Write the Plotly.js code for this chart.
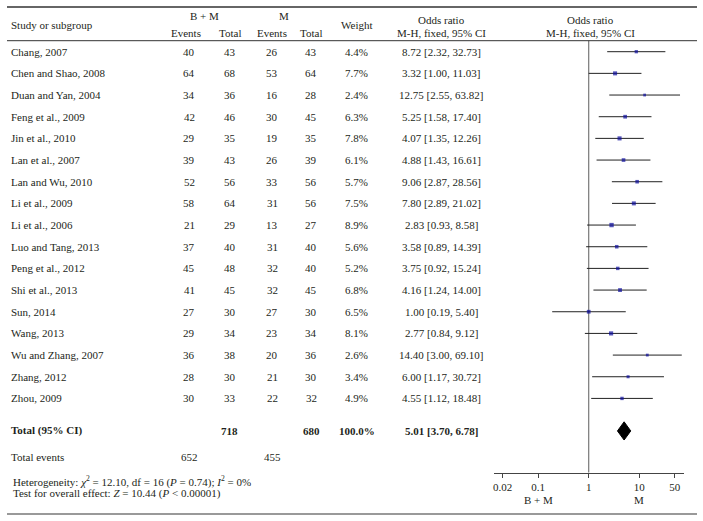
<!DOCTYPE html>
<html>
<head>
<meta charset="utf-8">
<script src="https://cdn.plot.ly/plotly-3.0.1.min.js"></script>
<style>html,body{margin:0;padding:0;background:#fff;}#chart{width:703px;height:521px;}</style>
</head>
<body>
<div id="chart"></div>
<script>
// ---- data ----
const studies = ["Chang, 2007","Chen and Shao, 2008","Duan and Yan, 2004","Feng et al., 2009","Jin et al., 2010","Lan et al., 2007","Lan and Wu, 2010","Li et al., 2009","Li et al., 2006","Luo and Tang, 2013","Peng et al., 2012","Shi et al., 2013","Sun, 2014","Wang, 2013","Wu and Zhang, 2007","Zhang, 2012","Zhou, 2009"];
const bmEvents = [40,64,34,42,29,39,52,58,21,37,45,41,27,29,36,28,30];
const bmTotal  = [43,68,36,46,35,43,56,64,29,40,48,45,30,34,38,30,33];
const mEvents  = [26,53,16,30,19,26,33,31,13,31,32,32,27,23,20,21,22];
const mTotal   = [43,64,28,45,35,39,56,56,27,40,40,45,30,34,36,30,32];
const weights  = [4.4,7.7,2.4,6.3,7.8,6.1,5.7,7.5,8.9,5.6,5.2,6.8,6.5,8.1,2.6,3.4,4.9];
const orVal    = [8.72,3.32,12.75,5.25,4.07,4.88,9.06,7.80,2.83,3.58,3.75,4.16,1.00,2.77,14.40,6.00,4.55];
const ciLow    = [2.32,1.00,2.55,1.58,1.35,1.43,2.87,2.89,0.93,0.89,0.92,1.24,0.19,0.84,3.00,1.17,1.12];
const ciHigh   = [32.73,11.03,63.82,17.40,12.26,16.61,28.56,21.02,8.58,14.39,15.24,14.00,5.40,9.12,69.10,30.72,18.48];
const totalBM = 718, totalM = 680, totalWeight = 100.0;
const totalOR = 5.01, totalLow = 3.70, totalHigh = 6.78;
const totalEventsBM = 652, totalEventsM = 455;
const tickVals = [0.02, 0.1, 1, 10, 50];
const tickText = ["0.02","0.1","1","10","50"];
const favourLabels = ["B + M", "M"];
const favourAt = [0.1, 10];

// ---- layout helpers ----
const W = 703, H = 521;
const px = x => x / W;
const py = y => 1 - y / H;
const FONT = "Liberation Serif, DejaVu Serif, serif";
const TXT = "#231f20";
const rowTop = 51.7, rowStep = 21.67;            // pixel position of row 0 and row spacing
const axTopPx = 40.7, axBotPx = 472.5;
const yRange = [(axBotPx - rowTop) / rowStep, (axTopPx - rowTop) / rowStep];
const totalRow = studies.length + 0.5;
const eventsRow = studies.length + 1.7;
const xLeftPx = 494, xRightPx = 684, oneX = 588.7, decade = 50.6;
const xRange = [(xLeftPx - oneX) / decade, (xRightPx - oneX) / decade];

const col = {name: 9, bmE: 189, bmT: 230, mE: 272, mT: 311, w: 357, or: 441};

const ann = [];
function addText(text, x, y, anchor, yref) {
  ann.push({text: text, x: px(x), xref: "paper", y: y, yref: yref || "y", xanchor: anchor || "center",
            yanchor: "middle", showarrow: false, font: {family: FONT, size: 11, color: TXT}});
}
function fmtOR(o, l, h) { return o.toFixed(2) + " [" + l.toFixed(2) + ", " + h.toFixed(2) + "]"; }

// headers
addText("B + M", 204, py(16), "center", "paper");
addText("M", 284, py(16), "center", "paper");
addText("Study or subgroup", col.name, py(25), "left", "paper");
addText("Events", 186, py(33), "center", "paper");
addText("Total", 230, py(33), "center", "paper");
addText("Events", 272, py(33), "center", "paper");
addText("Total", 311, py(33), "center", "paper");
addText("Weight", col.w, py(25), "center", "paper");
addText("Odds ratio", col.or, py(20), "center", "paper");
addText("M-H, fixed, 95% CI", col.or, py(33), "center", "paper");
addText("Odds ratio", 590, py(20), "center", "paper");
addText("M-H, fixed, 95% CI", 590, py(33), "center", "paper");

// rows
studies.forEach((s, i) => {
  addText(s, col.name, i, "left");
  addText(String(bmEvents[i]), col.bmE, i);
  addText(String(bmTotal[i]), col.bmT, i);
  addText(String(mEvents[i]), col.mE, i);
  addText(String(mTotal[i]), col.mT, i);
  addText(weights[i].toFixed(1) + "%", col.w, i);
  addText(fmtOR(orVal[i], ciLow[i], ciHigh[i]), col.or, i);
});
// totals
addText("<b>Total (95% CI)</b>", col.name, totalRow, "left");
addText("<b>" + totalBM + "</b>", col.bmT, totalRow);
addText("<b>" + totalM + "</b>", col.mT, totalRow);
addText("<b>" + totalWeight.toFixed(1) + "%</b>", col.w, totalRow);
addText("<b>" + fmtOR(totalOR, totalLow, totalHigh) + "</b>", col.or, totalRow);
addText("Total events", col.name, eventsRow, "left");
addText(String(totalEventsBM), col.bmE, eventsRow);
addText(String(totalEventsM), col.mE, eventsRow);
addText("Heterogeneity: <i>χ</i><sup>2</sup> = 12.10, df = 16 (<i>P</i> = 0.74); <i>I</i><sup>2</sup> = 0%", 11, py(481), "left", "paper");
addText("Test for overall effect: <i>Z</i> = 10.44 (<i>P</i> < 0.00001)", 11, py(493), "left", "paper");
// favours labels (annotation x on a log axis is given in log10 units)
favourLabels.forEach((t, k) => {
  ann.push({text: t, x: Math.log10(favourAt[k]), xref: "x", y: py(500), yref: "paper", showarrow: false,
            xanchor: "center", yanchor: "middle", font: {family: FONT, size: 11, color: TXT}});
});

// ---- traces ----
const rows = studies.map((_, i) => i);
const ciX = [], ciY = [];
studies.forEach((_, i) => { ciX.push(ciLow[i], ciHigh[i], null); ciY.push(i, i, null); });

const ciTrace = {type: "scatter", mode: "lines", x: ciX, y: ciY, line: {color: "#222", width: 1}, hoverinfo: "skip", cliponaxis: false};
const ptTrace = {type: "scatter", mode: "markers", x: orVal, y: rows,
  marker: {symbol: "square", color: "#0c0c9c", size: weights.map(w => 2.2 + w * 0.24), line: {width: 0}}, cliponaxis: false};
const dh = 0.42;
const diamond = {type: "scatter", mode: "lines", fill: "toself", fillcolor: "#000",
  x: [totalLow, totalOR, totalHigh, totalOR, totalLow],
  y: [totalRow, totalRow - dh, totalRow, totalRow + dh, totalRow],
  line: {color: "#000", width: 1}, hoverinfo: "skip"};

const shapes = [
  {type: "line", xref: "paper", yref: "paper", x0: px(7), x1: px(697), y0: py(7), y1: py(7), line: {color: "#333", width: 1.3}},
  {type: "line", xref: "paper", yref: "paper", x0: px(7), x1: px(697), y0: py(axTopPx), y1: py(axTopPx), line: {color: "#333", width: 1}},
  {type: "line", xref: "paper", yref: "paper", x0: px(7), x1: px(697), y0: py(514), y1: py(514), line: {color: "#999", width: 2}},
  {type: "line", xref: "x", yref: "paper", x0: 1, x1: 1, y0: py(axBotPx), y1: py(axTopPx), line: {color: "#777", width: 1.2}, layer: "below"}
];

const layout = {
  width: W, height: H,
  margin: {l: 0, r: 0, t: 0, b: 0, pad: 0},
  paper_bgcolor: "#fff", plot_bgcolor: "rgba(0,0,0,0)",
  showlegend: false,
  xaxis: {type: "log", range: xRange, domain: [px(xLeftPx), px(xRightPx)], showline: true, linecolor: "#444", linewidth: 1,
          ticks: "outside", ticklen: 4, tickcolor: "#444", tickwidth: 1, showgrid: false, zeroline: false,
          tickvals: tickVals, ticktext: tickText, tickfont: {family: FONT, size: 11, color: TXT}, fixedrange: true},
  yaxis: {range: yRange, domain: [py(axBotPx), py(axTopPx)], visible: false, showgrid: false, zeroline: false, fixedrange: true},
  annotations: ann,
  shapes: shapes
};

Plotly.newPlot("chart", [ciTrace, diamond, ptTrace], layout, {displayModeBar: false, staticPlot: true});
</script>
</body>
</html>
